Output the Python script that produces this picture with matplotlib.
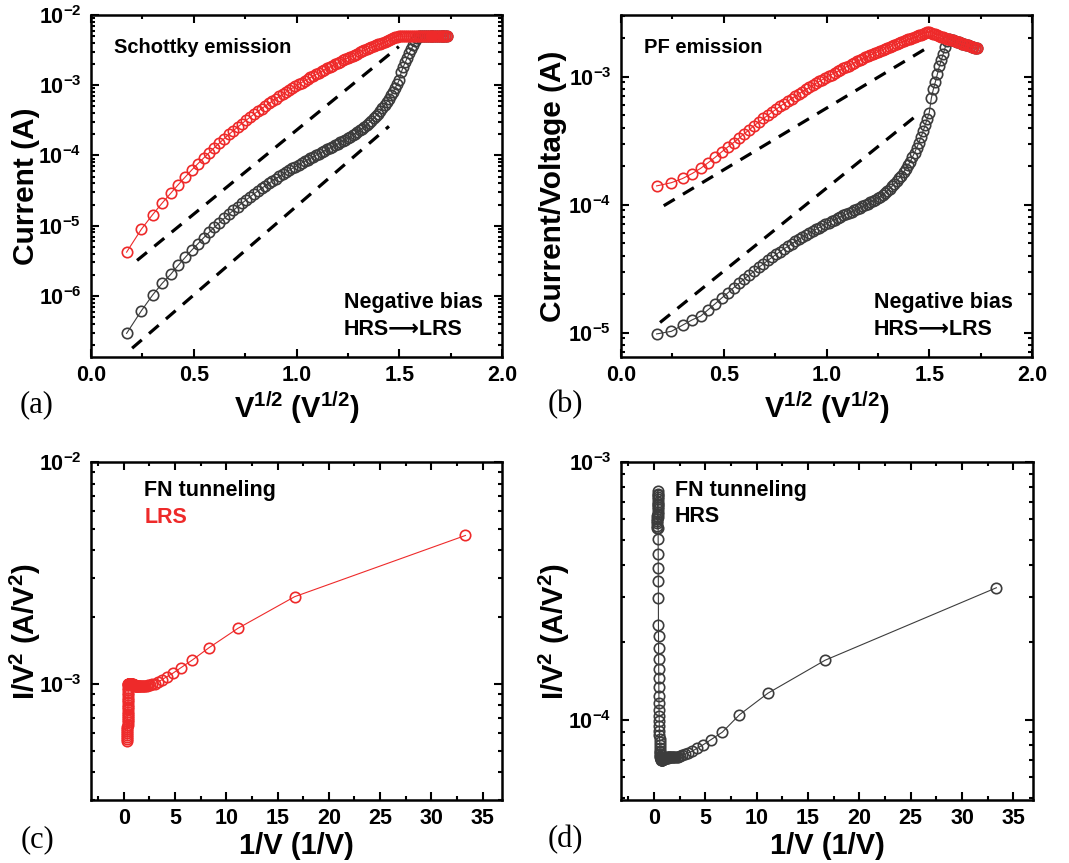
import numpy as np
import matplotlib
matplotlib.use('Agg')
import matplotlib.pyplot as plt
from matplotlib.ticker import MultipleLocator, LogLocator, NullFormatter

plt.rcParams['font.family'] = ['Liberation Sans', 'DejaVu Sans']
plt.rcParams['font.weight'] = 'bold'
plt.rcParams['axes.labelweight'] = 'bold'
plt.rcParams['mathtext.fontset'] = 'custom'
plt.rcParams['mathtext.rm'] = 'Liberation Sans:bold'
plt.rcParams['mathtext.it'] = 'Liberation Sans:bold'
plt.rcParams['mathtext.bf'] = 'Liberation Sans:bold'

# negative bias sweep, |V| (V)
voltage = [0.03, 0.06, 0.09, 0.12, 0.15, 0.18, 0.21, 0.24, 0.27, 0.30,
           0.33, 0.36, 0.39, 0.42, 0.45, 0.48, 0.51, 0.54, 0.57, 0.60,
           0.63, 0.66, 0.69, 0.72, 0.75, 0.78, 0.81, 0.84, 0.87, 0.90,
           0.93, 0.96, 0.99, 1.02, 1.05, 1.08, 1.11, 1.14, 1.17, 1.20,
           1.23, 1.26, 1.29, 1.32, 1.35, 1.38, 1.41, 1.44, 1.47, 1.50,
           1.53, 1.56, 1.59, 1.62, 1.65, 1.68, 1.71, 1.74, 1.77, 1.80,
           1.83, 1.86, 1.89, 1.92, 1.95, 1.98, 2.01, 2.04, 2.07, 2.10,
           2.13, 2.16, 2.19, 2.22, 2.25, 2.28, 2.31, 2.34, 2.37, 2.40,
           2.43, 2.46, 2.49, 2.52, 2.55, 2.58, 2.61, 2.64, 2.67, 2.70,
           2.73, 2.76, 2.79, 2.82, 2.85, 2.88, 2.91, 2.94, 2.97, 3.00]

# |I| (A), LRS (red) and HRS (black)
lrs_current = [4.20e-6, 8.90e-6, 1.44e-5, 2.10e-5, 2.88e-5, 3.83e-5, 4.92e-5, 6.20e-5, 7.61e-5, 9.16e-5,
               1.09e-4, 1.29e-4, 1.50e-4, 1.74e-4, 1.99e-4, 2.26e-4, 2.54e-4, 2.85e-4, 3.17e-4, 3.52e-4,
               3.88e-4, 4.26e-4, 4.65e-4, 5.07e-4, 5.51e-4, 5.96e-4, 6.43e-4, 6.92e-4, 7.44e-4, 7.97e-4,
               8.52e-4, 9.08e-4, 9.68e-4, 1.03e-3, 1.09e-3, 1.16e-3, 1.22e-3, 1.29e-3, 1.36e-3, 1.43e-3,
               1.50e-3, 1.58e-3, 1.66e-3, 1.74e-3, 1.82e-3, 1.90e-3, 1.99e-3, 2.07e-3, 2.16e-3, 2.25e-3,
               2.34e-3, 2.44e-3, 2.53e-3, 2.63e-3, 2.73e-3, 2.83e-3, 2.93e-3, 3.04e-3, 3.14e-3, 3.25e-3,
               3.35e-3, 3.46e-3, 3.58e-3, 3.69e-3, 3.81e-3, 3.92e-3, 4.05e-3, 4.17e-3, 4.29e-3, 4.41e-3,
               4.53e-3, 4.66e-3, 4.79e-3, 4.92e-3, 5.00e-3, 5.00e-3, 5.00e-3, 5.00e-3, 5.00e-3, 5.00e-3,
               5.00e-3, 5.00e-3, 5.00e-3, 5.00e-3, 5.00e-3, 5.00e-3, 5.00e-3, 5.00e-3, 5.00e-3, 5.00e-3,
               5.00e-3, 5.00e-3, 5.00e-3, 5.00e-3, 5.00e-3, 5.00e-3, 5.00e-3, 5.00e-3, 5.00e-3, 5.00e-3]

hrs_current = [2.93e-7, 6.14e-7, 1.03e-6, 1.51e-6, 2.02e-6, 2.72e-6, 3.53e-6, 4.47e-6, 5.51e-6, 6.72e-6,
               8.01e-6, 9.47e-6, 1.10e-5, 1.27e-5, 1.46e-5, 1.65e-5, 1.87e-5, 2.09e-5, 2.33e-5, 2.58e-5,
               2.85e-5, 3.12e-5, 3.41e-5, 3.71e-5, 4.03e-5, 4.36e-5, 4.69e-5, 5.04e-5, 5.40e-5, 5.77e-5,
               6.16e-5, 6.55e-5, 6.96e-5, 7.37e-5, 7.80e-5, 8.25e-5, 8.70e-5, 9.16e-5, 9.64e-5, 1.01e-4,
               1.06e-4, 1.11e-4, 1.17e-4, 1.22e-4, 1.28e-4, 1.34e-4, 1.40e-4, 1.46e-4, 1.53e-4, 1.60e-4,
               1.67e-4, 1.75e-4, 1.84e-4, 1.93e-4, 2.04e-4, 2.15e-4, 2.28e-4, 2.42e-4, 2.57e-4, 2.74e-4,
               2.93e-4, 3.14e-4, 3.38e-4, 3.65e-4, 3.95e-4, 4.30e-4, 4.71e-4, 5.18e-4, 5.74e-4, 6.39e-4,
               7.15e-4, 8.06e-4, 9.13e-4, 1.04e-3, 1.18e-3, 1.54e-3, 1.84e-3, 2.13e-3, 2.48e-3, 2.89e-3,
               3.28e-3, 3.72e-3, 4.23e-3, 4.75e-3, 5.00e-3, 5.00e-3, 5.00e-3, 5.00e-3, 5.00e-3, 5.00e-3,
               5.00e-3, 5.00e-3, 5.00e-3, 5.00e-3, 5.00e-3, 5.00e-3, 5.00e-3, 5.00e-3, 5.00e-3, 5.00e-3]

# dashed fit lines: (x ends, y ends)
schottky_fit_lrs = ([0.224, 1.498], [3.2e-6, 3.55e-3])
schottky_fit_hrs = ([0.20, 1.45], [1.8e-7, 2.6e-4])
pf_fit_lrs = ([0.208, 1.498], [9.8e-5, 1.71e-3])
pf_fit_hrs = ([0.19, 1.44], [1.2e-5, 5.0e-4])

RED = '#ee2a2a'
GREY = '#3c3c3c'

V = np.array(voltage)
I_lrs = np.array(lrs_current)
I_hrs = np.array(hrs_current)
sqrtV = np.sqrt(V)

fig = plt.figure(figsize=(10.69, 8.63), dpi=100)
W, H = 1069.0, 863.0


def make_ax(l, t, r, b):
    return fig.add_axes([l / W, 1 - b / H, (r - l) / W, (b - t) / H])


def style(ax, xmajor, xminor):
    ax.set_yscale('log')
    for s in ax.spines.values():
        s.set_linewidth(1.8)
    ax.xaxis.set_major_locator(MultipleLocator(xmajor))
    ax.xaxis.set_minor_locator(MultipleLocator(xminor))
    ax.yaxis.set_major_locator(LogLocator(base=10))
    ax.yaxis.set_minor_locator(LogLocator(base=10, subs=np.arange(2, 10)))
    ax.yaxis.set_minor_formatter(NullFormatter())
    ax.tick_params(which='both', direction='in', top=True, right=True,
                   labelsize=15.5, width=1.5)
    ax.tick_params(which='major', length=6)
    ax.tick_params(which='minor', length=3)
    ax.tick_params(axis='y', pad=7)
    ax.tick_params(axis='x', pad=6)


mk = dict(marker='o', markersize=7.5, markerfacecolor='none', markeredgewidth=1.2, linewidth=0.8)
dash = dict(color='black', linewidth=2.3, linestyle=(0, (4, 3)))

# (a) Schottky
ax = make_ax(91, 15, 502, 357)
style(ax, 0.5, 0.25)
ax.plot(sqrtV, I_hrs, color=GREY, markeredgecolor=GREY, **mk)
ax.plot(sqrtV, I_lrs, color=RED, markeredgecolor=RED, **mk)
ax.plot(*schottky_fit_lrs, **dash)
ax.plot(*schottky_fit_hrs, **dash)
ax.set_xlim(0, 2.0)
ax.set_ylim(1.35e-7, 1e-2)
ax.xaxis.set_major_formatter(plt.FuncFormatter(lambda v, p: '%.1f' % v))
ax.set_ylabel('Current (A)', fontsize=21.5, labelpad=-1)
ax.set_xlabel(r'V$^{1/2}$ (V$^{1/2}$)', fontsize=21, labelpad=2)
ax.text(0.055, 0.905, 'Schottky emission', transform=ax.transAxes, fontsize=14.5, va='center')
ax.text(0.615, 0.16, 'Negative bias', transform=ax.transAxes, fontsize=15.5, va='center')
ax.text(0.615, 0.08, 'HRS\u27f6LRS', transform=ax.transAxes, fontsize=15.5, va='center')
fig.text(37 / W, 1 - 405 / H, '(a)', family='Liberation Serif', weight='normal', fontsize=22,
         ha='center', va='center')

# (b) Poole-Frenkel
ax = make_ax(621, 15, 1032, 357)
style(ax, 0.5, 0.25)
ax.plot(sqrtV, I_hrs / V, color=GREY, markeredgecolor=GREY, **mk)
ax.plot(sqrtV, I_lrs / V, color=RED, markeredgecolor=RED, **mk)
ax.plot(*pf_fit_lrs, **dash)
ax.plot(*pf_fit_hrs, **dash)
ax.set_xlim(0, 2.0)
ax.set_ylim(6.45e-6, 3.03e-3)
ax.xaxis.set_major_formatter(plt.FuncFormatter(lambda v, p: '%.1f' % v))
ax.set_ylabel('Current/Voltage (A)', fontsize=21.5, labelpad=1)
ax.set_xlabel(r'V$^{1/2}$ (V$^{1/2}$)', fontsize=21, labelpad=2)
ax.text(0.055, 0.905, 'PF emission', transform=ax.transAxes, fontsize=14.5, va='center')
ax.text(0.615, 0.16, 'Negative bias', transform=ax.transAxes, fontsize=15.5, va='center')
ax.text(0.615, 0.08, 'HRS\u27f6LRS', transform=ax.transAxes, fontsize=15.5, va='center')
fig.text(565 / W, 1 - 405 / H, '(b)', family='Liberation Serif', weight='normal', fontsize=22,
         ha='center', va='center')

# (c) FN tunneling, LRS
ax = make_ax(91, 462, 502, 800)
style(ax, 5, 2.5)
ax.plot(1 / V, I_lrs / V ** 2, color=RED, markeredgecolor=RED, **mk)
ax.set_xlim(-3.2, 36.9)
ax.set_ylim(3.0e-4, 1e-2)
ax.set_ylabel(r'I/V$^{2}$ (A/V$^{2}$)', fontsize=21, labelpad=-3)
ax.set_xlabel('1/V (1/V)', fontsize=21, labelpad=2)
ax.text(0.13, 0.915, 'FN tunneling', transform=ax.transAxes, fontsize=15.5, va='center')
ax.text(0.13, 0.837, 'LRS', transform=ax.transAxes, fontsize=15.5, va='center', color=RED)
fig.text(37 / W, 1 - 840 / H, '(c)', family='Liberation Serif', weight='normal', fontsize=22,
         ha='center', va='center')

# (d) FN tunneling, HRS
ax = make_ax(621, 462, 1033, 800)
style(ax, 5, 2.5)
ax.plot(1 / V, I_hrs / V ** 2, color=GREY, markeredgecolor=GREY, **mk)
ax.set_xlim(-3.2, 36.9)
ax.set_ylim(4.9e-5, 1e-3)
ax.set_ylabel(r'I/V$^{2}$ (A/V$^{2}$)', fontsize=21, labelpad=-3)
ax.set_xlabel('1/V (1/V)', fontsize=21, labelpad=2)
ax.text(0.13, 0.915, 'FN tunneling', transform=ax.transAxes, fontsize=15.5, va='center')
ax.text(0.13, 0.84, 'HRS', transform=ax.transAxes, fontsize=15.5, va='center')
fig.text(565 / W, 1 - 840 / H, '(d)', family='Liberation Serif', weight='normal', fontsize=22,
         ha='center', va='center')

fig.savefig('out.png', dpi=100)
